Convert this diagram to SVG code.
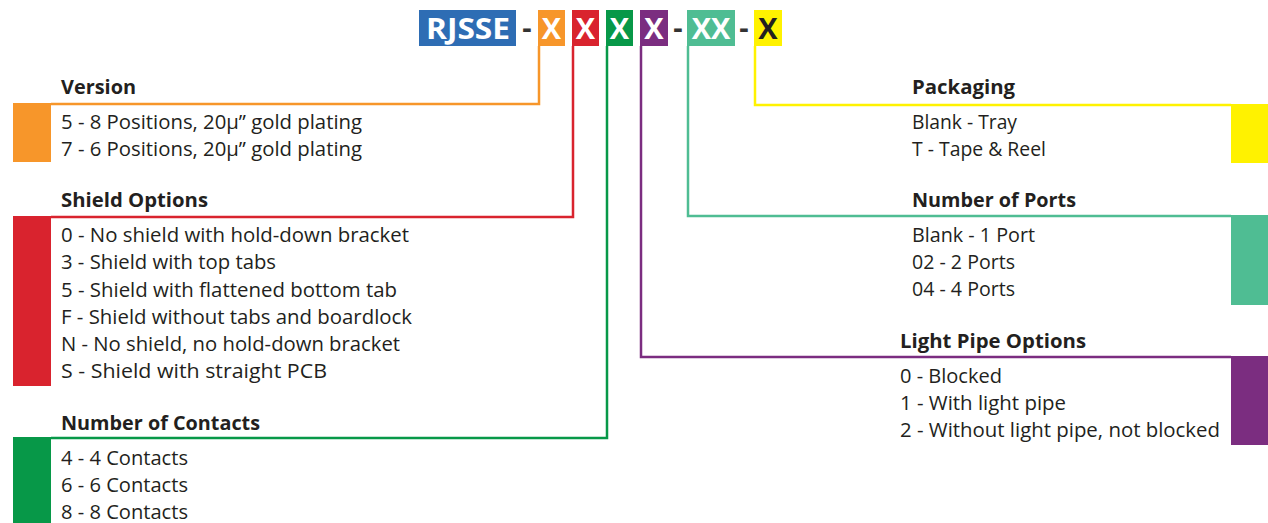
<svg xmlns="http://www.w3.org/2000/svg" width="1268" height="523" viewBox="0 0 1268 523">
<style>
.h{font-family:"Open Sans","Liberation Sans",sans-serif;font-weight:700;font-size:20px;fill:#231f20}
.t{font-family:"Open Sans","Liberation Sans",sans-serif;font-weight:400;font-size:20px;fill:#231f20}
.k{font-family:"Open Sans","Liberation Sans",sans-serif;font-weight:700;font-size:29px;fill:#ffffff;text-anchor:middle}
.d{font-family:"Open Sans","Liberation Sans",sans-serif;font-weight:700;font-size:29px;fill:#333333;text-anchor:middle}
.c{fill:none;stroke-width:2.5}
</style>
<rect width="1268" height="523" fill="#ffffff"/>
<g id="code">
<rect x="419" y="10" width="97" height="36" fill="#2e6db4"/>
<text class="k" x="468" y="39" textLength="84" lengthAdjust="spacingAndGlyphs">RJSSE</text>
<text class="d" x="527" y="38">-</text>
<rect x="538" y="10" width="27" height="36" fill="#f7962a"/>
<text class="k" x="551.5" y="39">X</text>
<rect x="572" y="10" width="27" height="36" fill="#d9232e"/>
<text class="k" x="585.5" y="39">X</text>
<rect x="606" y="10" width="27" height="36" fill="#079848"/>
<text class="k" x="619.5" y="39">X</text>
<rect x="640" y="10" width="28" height="36" fill="#7b2d80"/>
<text class="k" x="654" y="39">X</text>
<text class="d" x="678" y="38">-</text>
<rect x="687" y="10" width="48" height="36" fill="#4fbd93"/>
<text class="k" x="711" y="39">XX</text>
<text class="d" x="744" y="38">-</text>
<rect x="754" y="10" width="28" height="36" fill="#fff200"/>
<text class="k" x="768" y="39" style="fill:#231f20">X</text>
</g>
<g id="connectors">
<path class="c" d="M539,46 V104 H51" stroke="#f7962a"/>
<path class="c" d="M573,46 V217 H51" stroke="#d9232e"/>
<path class="c" d="M607,46 V438 H51" stroke="#079848"/>
<path class="c" d="M641,46 V357 H1231" stroke="#7b2d80"/>
<path class="c" d="M688,46 V216 H1231" stroke="#4fbd93"/>
<path class="c" d="M755,46 V105 H1231" stroke="#fff200"/>
</g>
<g id="version">
<rect x="13" y="103" width="38" height="59" fill="#f7962a"/>
<text class="h" x="61" y="94" textLength="75" lengthAdjust="spacingAndGlyphs">Version</text>
<text class="t" x="61" y="129" textLength="301" lengthAdjust="spacingAndGlyphs">5 - 8 Positions, 20µ” gold plating</text>
<text class="t" x="61" y="156" textLength="301" lengthAdjust="spacingAndGlyphs">7 - 6 Positions, 20µ” gold plating</text>
</g>
<g id="shield">
<rect x="13" y="216" width="38" height="170" fill="#d9232e"/>
<text class="h" x="61" y="207" textLength="147" lengthAdjust="spacingAndGlyphs">Shield Options</text>
<text class="t" x="61" y="242" textLength="348" lengthAdjust="spacingAndGlyphs">0 - No shield with hold-down bracket</text>
<text class="t" x="61" y="269" textLength="215" lengthAdjust="spacingAndGlyphs">3 - Shield with top tabs</text>
<text class="t" x="61" y="297" textLength="336" lengthAdjust="spacingAndGlyphs">5 - Shield with flattened bottom tab</text>
<text class="t" x="61" y="324" textLength="351" lengthAdjust="spacingAndGlyphs">F - Shield without tabs and boardlock</text>
<text class="t" x="61" y="351" textLength="339" lengthAdjust="spacingAndGlyphs">N - No shield, no hold-down bracket</text>
<text class="t" x="61" y="378" textLength="266" lengthAdjust="spacingAndGlyphs">S - Shield with straight PCB</text>
</g>
<g id="contacts">
<rect x="13" y="437" width="38" height="86" fill="#079848"/>
<text class="h" x="61" y="430" textLength="199" lengthAdjust="spacingAndGlyphs">Number of Contacts</text>
<text class="t" x="61" y="465" textLength="127" lengthAdjust="spacingAndGlyphs">4 - 4 Contacts</text>
<text class="t" x="61" y="492" textLength="127" lengthAdjust="spacingAndGlyphs">6 - 6 Contacts</text>
<text class="t" x="61" y="519" textLength="127" lengthAdjust="spacingAndGlyphs">8 - 8 Contacts</text>
</g>
<g id="packaging">
<rect x="1231" y="104" width="37" height="59" fill="#fff200"/>
<text class="h" x="912" y="94" textLength="103" lengthAdjust="spacingAndGlyphs">Packaging</text>
<text class="t" x="912" y="129" textLength="105" lengthAdjust="spacingAndGlyphs">Blank - Tray</text>
<text class="t" x="912" y="156" textLength="134" lengthAdjust="spacingAndGlyphs">T - Tape &amp; Reel</text>
</g>
<g id="ports">
<rect x="1231" y="215" width="37" height="90" fill="#4fbd93"/>
<text class="h" x="912" y="207" textLength="164" lengthAdjust="spacingAndGlyphs">Number of Ports</text>
<text class="t" x="912" y="242" textLength="123" lengthAdjust="spacingAndGlyphs">Blank - 1 Port</text>
<text class="t" x="912" y="269" textLength="103" lengthAdjust="spacingAndGlyphs">02 - 2 Ports</text>
<text class="t" x="912" y="296" textLength="103" lengthAdjust="spacingAndGlyphs">04 - 4 Ports</text>
</g>
<g id="lightpipe">
<rect x="1231" y="356" width="37" height="89" fill="#7b2d80"/>
<text class="h" x="900" y="348" textLength="186" lengthAdjust="spacingAndGlyphs">Light Pipe Options</text>
<text class="t" x="900" y="383" textLength="102" lengthAdjust="spacingAndGlyphs">0 - Blocked</text>
<text class="t" x="900" y="410" textLength="166" lengthAdjust="spacingAndGlyphs">1 - With light pipe</text>
<text class="t" x="900" y="437" textLength="320" lengthAdjust="spacingAndGlyphs">2 - Without light pipe, not blocked</text>
</g>
</svg>
